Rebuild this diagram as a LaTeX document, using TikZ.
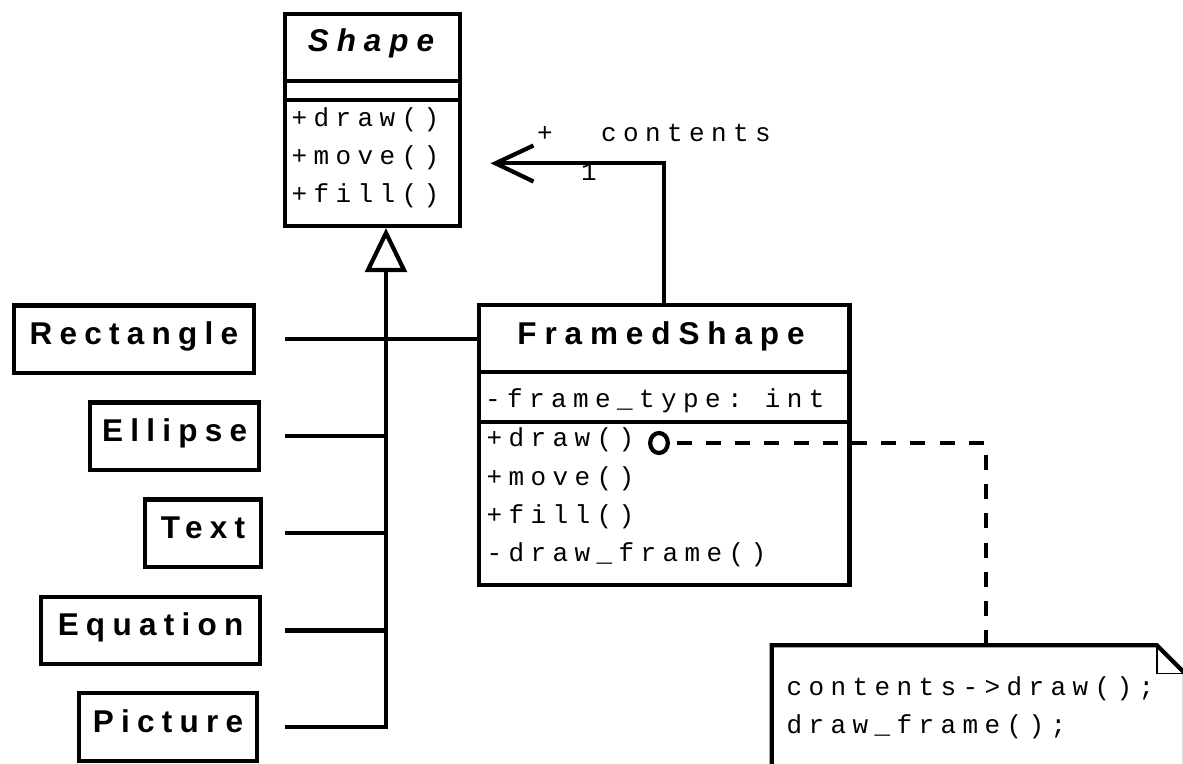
\documentclass[tikz,border=0pt]{standalone}
\usepackage{fontspec}
\usetikzlibrary{shapes.geometric}
\newfontfamily\classfont[LetterSpace=25]{Liberation Sans}
\newfontfamily\leaffont[LetterSpace=23]{Liberation Sans}
\newfontfamily\codefont[LetterSpace=24.6]{Liberation Mono}
\newcommand\cellgap{\hspace*{22pt}}
\tikzset{
  uml/.style={line width=4.2pt, line join=miter},
  classbox/.style={draw, uml, rectangle, inner sep=0pt, outer sep=0pt},
  leafbox/.style={classbox, minimum height=67.5pt,
    font=\leaffont\bfseries\fontsize{31.5}{37}\selectfont,
    text height=20pt, text depth=10pt},
  title/.style={inner sep=0pt, anchor=base,
    font=\classfont\bfseries\fontsize{31.5}{37}\selectfont},
  abstracttitle/.style={inner sep=0pt, anchor=base,
    font=\classfont\bfseries\itshape\fontsize{31.5}{37}\selectfont},
  code/.style={inner sep=0pt, anchor=base west,
    font=\codefont\fontsize{26}{30}\selectfont},
  dep/.style={line width=4.2pt, dash pattern=on 15pt off 14.2pt, dash phase=20.35pt},
  knobstyle/.style={draw, ellipse, line width=4.2pt, inner sep=0pt, outer sep=0pt,
    minimum width=17.7pt, minimum height=20pt},
}
\begin{document}
\begin{tikzpicture}[x=1pt,y=-1pt]
\useasboundingbox (0,0) rectangle (1183,763);
\fill[white] (0,0) rectangle (1183,763);

% abstract base class
\node[classbox, minimum width=175pt, minimum height=212pt] (shape) at (372.8,120.3) {};
\coordinate (shapeDivA) at (0,81.2);
\coordinate (shapeDivB) at (0,100);
\draw[uml] (shape.west |- shapeDivA) -- (shape.east |- shapeDivA);
\draw[uml] (shape.west |- shapeDivB) -- (shape.east |- shapeDivB);
\node[abstracttitle] (shapeName) at (371,51.7) {Shape};
\node[code] (shapeDraw) at (291.5,126) {+draw()};
\node[code] (shapeMove) at (291.5,164.5) {+move()};
\node[code] (shapeFill) at (291.5,202.7) {+fill()};

% decorator class
\node[classbox, minimum width=370.7pt, minimum height=279.7pt] (framed) at (664.2,445.2) {};
\coordinate (framedDivA) at (0,372);
\coordinate (framedDivB) at (0,421.7);
\draw[uml] (framed.west |- framedDivA) -- (framed.east |- framedDivA);
\draw[uml] (framed.west |- framedDivB) -- (framed.east |- framedDivB);
\node[title] (framedName) at (661,344) {FramedShape};
\node[code] (framedAttr) at (485,407) {-frame\_type:\cellgap int};
\node[code] (framedDraw) at (486.5,446) {+draw()};
\node[code] (framedMove) at (486.5,485) {+move()};
\node[code] (framedFill) at (486.5,523.3) {+fill()};
\node[code] (framedFrame) at (486.5,561.7) {-draw\_frame()};

% concrete shapes
\node[leafbox, minimum width=240.3pt] (rect) at (133.9,339.2) {Rectangle};
\node[leafbox, minimum width=168.7pt] (ell)  at (174.7,436.3) {Ellipse};
\node[leafbox, minimum width=116.6pt] (txt)  at (203,533.3) {Text};
\node[leafbox, minimum width=218.4pt] (eqn)  at (150.5,630.5) {Equation};
\node[leafbox, minimum width=177.4pt] (pic)  at (168,727.1) {Picture};

% generalization
\coordinate (genTip) at (386,233);
\coordinate (genL) at (368,270);
\coordinate (genR) at (404,270);
\coordinate (genBase) at (386,270);
\coordinate (stub) at (285,0);
\draw[uml] (genTip) -- (genL) -- (genR) -- cycle;
\draw[uml] (genBase) -- (genBase |- pic.east) -- (stub |- pic.east);
\draw[uml] (stub |- rect.east) -- (framed.west |- rect.east);
\draw[uml] (stub |- ell.east) -- (genBase |- ell.east);
\draw[uml] (stub |- txt.east) -- (genBase |- txt.east);
\draw[uml] (stub |- eqn.east) -- (genBase |- eqn.east);

% association to the wrapped shape
\coordinate (assocTip) at (495.5,163.3);
\coordinate (barbA) at (533.5,145.5);
\coordinate (barbB) at (533.5,181.5);
\draw[uml] (framed.north) |- (assocTip);
\draw[uml] (barbA) -- (assocTip) -- (barbB);
\node[code] (roleVis) at (537,141.7) {+};
\node[code] (roleName) at (601,141.7) {contents};
\node[code] (roleMult) at (581,180) {1};

% note attached to draw()
\node[inner sep=0pt, outer sep=0pt, minimum width=413.3pt, minimum height=160pt,
      anchor=north west] (note) at (771.7,645.3) {};
\draw[uml] (note.north west) -- ([xshift=-28pt]note.north east)
  -- ([yshift=-28pt]note.north east) -- (note.south east)
  -- (note.south west) -- cycle;
\draw[line width=1.5pt] ([xshift=-28pt]note.north east)
  -- ([xshift=-28pt,yshift=-28pt]note.north east)
  -- ([yshift=-28pt]note.north east);
\node[code] (noteLineA) at (786.5,695) {contents->draw();};
\node[code] (noteLineB) at (786.5,733) {draw\_frame();};

\node[knobstyle] (knob) at (659,443) {};
\coordinate (noteTop) at (986,645.3);
\draw[dep] (knob.east) -| (noteTop);
\end{tikzpicture}
\end{document}
